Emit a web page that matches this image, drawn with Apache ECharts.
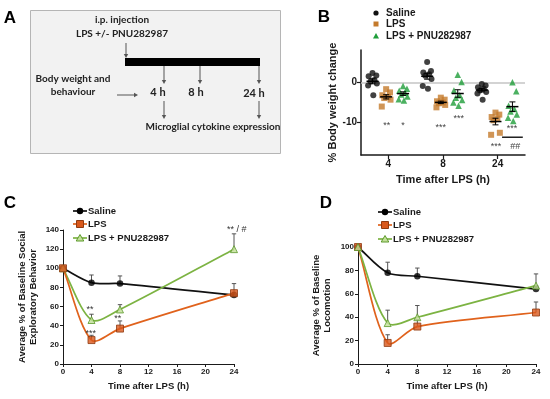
<!DOCTYPE html>
<html><head><meta charset="utf-8">
<script src="https://cdn.jsdelivr.net/npm/echarts@6/dist/echarts.min.js"></script>
<style>html,body{margin:0;padding:0;background:#fff}#c{width:550px;height:399px}</style>
</head><body><div id="c"></div><script>
// ---------- Panel B: % body weight change (individual animals) ----------
const bTimes = ['4', '8', '24'];
const bSaline = [[2.3, 1.7, 1.5, 0.6, 0.2, -0.3, -0.8, -3.2], [5.0, 2.8, 2.4, 2.0, 1.6, 0.8, -0.9, -1.6], [-0.4, -0.8, -1.2, -1.6, -2.0, -2.4, -2.8, -4.3]];
const bLPS = [[-1.7, -2.5, -3.2, -3.6, -3.9, -4.3, -6.0], [-3.8, -4.3, -4.7, -5.0, -5.2, -5.6, -6.2], [-7.5, -8.0, -8.6, -9.0, -9.4, -12.5, -13.0]];
const bPNU = [[-0.9, -1.6, -2.1, -2.6, -3.0, -3.5, -4.2, -4.5], [1.9, 0.1, -2.0, -3.2, -3.8, -4.4, -5.0, -5.8], [0, -2.2, -5.8, -6.6, -7.2, -8.0, -8.8, -9.6]];
const bYTicks = [0, -10];
const bNotes = [ // text, x (axis units), y (value)
  ['**', 0.47, -10.6], ['*', 0.77, -10.8], ['***', 1.46, -11.1], ['***', 1.79, -8.9],
  ['***', 2.76, -11.4], ['***', 2.47, -15.8], ['##', 2.82, -15.8]];

// ---------- Panel C: social exploratory behaviour ----------
const lineTimes = [0, 4, 8, 24];
const cSaline = [100, 85, 84, 72], cSalineErr = [0, 8, 8, 3];
const cLPS = [100, 25, 37, 74], cLPSErr = [0, 5, 8, 10];
const cPNU = [100, 46, 57, 120], cPNUErr = [0, 6, 5, 16];
const cNotes = [['**', 3.8, 56.5], ['***', 3.9, 31.5], ['**', 7.7, 48], ['** / #', 24.4, 141]];

// ---------- Panel D: locomotion ----------
const dSaline = [100, 78, 75, 64], dSalineErr = [0, 9, 7, 3];
const dLPS = [100, 18, 32, 44], dLPSErr = [0, 7, 6, 9];
const dPNU = [100, 35, 40, 67], dPNUErr = [0, 11, 10, 10];

const groupNames = ['Saline', 'LPS', 'LPS + PNU282987'];

const AX = 'Liberation Sans';
const BLK = '#1a1a1a';
const colB = ['#111111', '#c47a2c', '#1f9e3a'];
const colLine = ['#111111', '#e0621c', '#7cb342'];

const chart = echarts.init(document.getElementById('c'), null, {renderer: 'canvas', width: 550, height: 399});

// ---- helpers ----
const groupOffset = [-0.29, -0.04, 0.27];
const jitterPattern = [0, 0.07, -0.07, 0.035, -0.035, 0.08, -0.08, 0.015, -0.015];
function bPoints(sets, g) {
  const out = [];
  sets.forEach((vals, ci) => {
    const order = vals.map((v, i) => i).sort((a, b) => vals[b] - vals[a]);
    order.forEach((idx, rank) => {
      out.push([ci + 0.5 + groupOffset[g] + jitterPattern[rank % jitterPattern.length], vals[idx]]);
    });
  });
  return out;
}
function stats(vals) {
  const n = vals.length, m = vals.reduce((a, b) => a + b, 0) / n;
  const sd = Math.sqrt(vals.reduce((a, b) => a + (b - m) * (b - m), 0) / (n - 1));
  return [m, sd / Math.sqrt(n)];
}
function meanSeries(sets, g) {
  return {
    type: 'custom', xAxisIndex: 0, yAxisIndex: 0, z: 5, silent: true,
    encode: {x: 0, y: 1},
    data: sets.map((vals, ci) => { const s = stats(vals); return [ci + 0.5 + groupOffset[g], s[0], s[1]]; }),
    renderItem: (params, api) => {
      const x = api.value(0), m = api.value(1), se = api.value(2);
      const pm = api.coord([x, m]), pt = api.coord([x, m + se]), pb = api.coord([x, m - se]);
      const st = {stroke: '#000', lineWidth: 1.5};
      return {type: 'group', children: [
        {type: 'line', shape: {x1: pm[0] - 6, y1: pm[1], x2: pm[0] + 6, y2: pm[1]}, style: st},
        {type: 'line', shape: {x1: pt[0], y1: pt[1], x2: pb[0], y2: pb[1]}, style: {stroke: '#000', lineWidth: 1}},
        {type: 'line', shape: {x1: pt[0] - 3, y1: pt[1], x2: pt[0] + 3, y2: pt[1]}, style: {stroke: '#000', lineWidth: 1}},
        {type: 'line', shape: {x1: pb[0] - 3, y1: pb[1], x2: pb[0] + 3, y2: pb[1]}, style: {stroke: '#000', lineWidth: 1}}
      ]};
    }
  };
}
function curveSeries(ai, ys, color, z) {
  return {
    type: 'custom', xAxisIndex: ai, yAxisIndex: ai, z: z, silent: true, clip: false,
    encode: {x: 0, y: 1},
    data: lineTimes.map((t, i) => [t, ys[i]]),
    renderItem: (params, api) => {
      if (params.dataIndex !== 0) return null;
      const pts = lineTimes.map((t, i) => api.coord([t, ys[i]]));
      const n = pts.length, s = 0.3, cps = [];
      for (let i = 0; i < n; i++) {
        const p = pts[i], pr = pts[Math.max(i - 1, 0)], nx = pts[Math.min(i + 1, n - 1)];
        const vx = nx[0] - pr[0], vy = nx[1] - pr[1];
        const dp = Math.hypot(p[0] - pr[0], p[1] - pr[1]), dn = Math.hypot(nx[0] - p[0], nx[1] - p[1]);
        const tot = (dp + dn) || 1;
        cps.push({inn: [p[0] - vx * s * dp / tot, p[1] - vy * s * dp / tot], out: [p[0] + vx * s * dn / tot, p[1] + vy * s * dn / tot]});
      }
      const children = [];
      for (let i = 0; i < n - 1; i++) {
        children.push({type: 'bezierCurve', shape: {
          x1: pts[i][0], y1: pts[i][1], x2: pts[i + 1][0], y2: pts[i + 1][1],
          cpx1: cps[i].out[0], cpy1: cps[i].out[1], cpx2: cps[i + 1].inn[0], cpy2: cps[i + 1].inn[1]},
          style: {stroke: color, lineWidth: 1.7, fill: null}});
      }
      return {type: 'group', children};
    }
  };
}
function errSeries(ai, ys, errs) {
  return {
    type: 'custom', xAxisIndex: ai, yAxisIndex: ai, z: 3, silent: true,
    encode: {x: 0, y: 1},
    data: lineTimes.map((t, i) => [t, ys[i], errs[i]]),
    renderItem: (params, api) => {
      const x = api.value(0), y = api.value(1), e = api.value(2);
      if (!e) return null;
      const p0 = api.coord([x, y]), p1 = api.coord([x, y + e]);
      const st = {stroke: '#555', lineWidth: 1};
      return {type: 'group', children: [
        {type: 'line', shape: {x1: p0[0], y1: p0[1], x2: p1[0], y2: p1[1]}, style: st},
        {type: 'line', shape: {x1: p1[0] - 2.2, y1: p1[1], x2: p1[0] + 2.2, y2: p1[1]}, style: st}
      ]};
    }
  };
}
const lineSym = [
  {symbol: 'circle', symbolSize: 6.5, itemStyle: {color: '#000'}},
  {symbol: 'rect', symbolSize: 7, itemStyle: {color: '#d9581b', borderColor: '#8f3a10', borderWidth: 1}},
  {symbol: 'triangle', symbolSize: 7, itemStyle: {color: '#c3e09a', borderColor: '#5d9a2c', borderWidth: 1}}
];
function markerSeries(ai, ys, g, z) {
  return Object.assign({type: 'scatter', name: groupNames[g], xAxisIndex: ai, yAxisIndex: ai, z: z, silent: true,
    data: lineTimes.map((t, i) => [t, ys[i]])}, lineSym[g]);
}
function valAxis(gi, extra) {
  return Object.assign({
    type: 'value', gridIndex: gi, splitLine: {show: false},
    axisLine: {show: true, onZero: false, lineStyle: {color: BLK, width: 1}},
    axisTick: {show: true, length: 3, lineStyle: {color: BLK}},
    axisLabel: {fontFamily: AX, fontWeight: 'bold', fontSize: 8, color: BLK, margin: 4},
    nameLocation: 'middle',
    nameTextStyle: {fontFamily: AX, fontWeight: 'bold', fontSize: 9.5, color: BLK, lineHeight: 11}
  }, extra);
}

const series = [
  {type: 'scatter', name: 'Saline', xAxisIndex: 0, yAxisIndex: 0, symbol: 'circle', symbolSize: 6, z: 3, silent: true,
    itemStyle: {color: colB[0]}, data: bPoints(bSaline, 0),
    markLine: {silent: true, symbol: ['none', 'none'], label: {show: false}, lineStyle: {color: '#c4c4c4', type: 'solid', width: 1.5}, data: [{yAxis: 0}], z: 1}},
  {type: 'scatter', name: 'LPS', xAxisIndex: 0, yAxisIndex: 0, symbol: 'rect', symbolSize: 6, z: 3, silent: true,
    itemStyle: {color: colB[1]}, data: bPoints(bLPS, 1)},
  {type: 'scatter', name: 'LPS + PNU282987', xAxisIndex: 0, yAxisIndex: 0, symbol: 'triangle', symbolSize: 6.5, z: 3, silent: true,
    itemStyle: {color: colB[2]}, data: bPoints(bPNU, 2)},
  meanSeries(bSaline, 0), meanSeries(bLPS, 1), meanSeries(bPNU, 2),
  // C
  errSeries(1, cSaline, cSalineErr), errSeries(1, cLPS, cLPSErr), errSeries(1, cPNU, cPNUErr),
  curveSeries(1, cSaline, colLine[0], 4), curveSeries(1, cPNU, colLine[2], 4), curveSeries(1, cLPS, colLine[1], 4),
  markerSeries(1, cSaline, 0, 6), markerSeries(1, cPNU, 2, 7), markerSeries(1, cLPS, 1, 8),
  // D
  errSeries(2, dSaline, dSalineErr), errSeries(2, dLPS, dLPSErr), errSeries(2, dPNU, dPNUErr),
  curveSeries(2, dSaline, colLine[0], 4), curveSeries(2, dLPS, colLine[1], 4), curveSeries(2, dPNU, colLine[2], 4),
  markerSeries(2, dSaline, 0, 6), markerSeries(2, dLPS, 1, 7), markerSeries(2, dPNU, 2, 8)
];

const bTickVals = bTimes.map((t, i) => i + 0.5);
const option = {
  animation: false,
  grid: [
    {left: 361, top: 50, width: 164, height: 105},
    {left: 63, top: 230, width: 171, height: 134},
    {left: 358, top: 247, width: 178, height: 117}
  ],
  xAxis: [
    valAxis(0, {min: 0, max: 3,
      axisLine: {show: true, onZero: false, lineStyle: {color: BLK, width: 1.5}},
      axisTick: {show: true, length: 4, customValues: bTickVals, lineStyle: {color: BLK, width: 1.2}},
      axisLabel: {customValues: bTickVals, formatter: v => bTimes[Math.round(v - 0.5)], fontFamily: AX, fontWeight: 'bold', fontSize: 10, color: BLK, margin: 4},
      name: 'Time after LPS (h)', nameGap: 19, nameTextStyle: {fontFamily: AX, fontWeight: 'bold', fontSize: 11, color: BLK}}),
    valAxis(1, {min: 0, max: 24, interval: 4, name: 'Time after LPS (h)', nameGap: 17}),
    valAxis(2, {min: 0, max: 24, interval: 4, name: 'Time after LPS (h)', nameGap: 17})
  ],
  yAxis: [
    valAxis(0, {min: -18, max: 8,
      axisLine: {show: true, onZero: false, lineStyle: {color: BLK, width: 1.5}},
      axisTick: {show: true, length: 4, customValues: bYTicks, lineStyle: {color: BLK, width: 1.2}},
      axisLabel: {customValues: bYTicks, fontFamily: AX, fontWeight: 'bold', fontSize: 10, color: BLK, margin: 4},
      name: '% Body weight change', nameRotate: 90, nameGap: 23,
      nameTextStyle: {fontFamily: AX, fontWeight: 'bold', fontSize: 11, color: BLK}}),
    valAxis(1, {min: 0, max: 140, interval: 20, name: 'Average % of Baseline Social\nExploratory Behavior', nameRotate: 90, nameGap: 24}),
    valAxis(2, {min: 0, max: 100, interval: 20, name: 'Average % of Baseline\nLocomotion', nameRotate: 90, nameGap: 25})
  ],
  series: series
};
chart.setOption(option);

// ---------- graphics: panel A, panel letters, legends, annotations ----------
const g = [];
function txt(x, y, text, font, align, fill) {
  g.push({type: 'text', x: x, y: y, z: 20, silent: true, style: {text: text, font: font, fill: fill || '#222',
    align: align || 'center', verticalAlign: 'middle', textAlign: align || 'center', textVerticalAlign: 'middle'}});
}
function arrow(x1, y1, x2, y2) {
  const a = Math.atan2(y2 - y1, x2 - x1), L = 4, W = 2.2;
  const hx = x2 - L * Math.cos(a), hy = y2 - L * Math.sin(a);
  g.push({type: 'line', z: 20, silent: true, shape: {x1: x1, y1: y1, x2: hx, y2: hy}, style: {stroke: '#555', lineWidth: 1}});
  g.push({type: 'polygon', z: 20, silent: true, shape: {points: [[x2, y2], [hx - W * Math.sin(a), hy + W * Math.cos(a)], [hx + W * Math.sin(a), hy - W * Math.cos(a)]]}, style: {fill: '#555'}});
}
const AF = 'bold 10px Lato';
g.push({type: 'rect', z: 10, silent: true, shape: {x: 30.5, y: 10.5, width: 250, height: 143}, style: {fill: '#f2f2f2', stroke: '#b5b5b5', lineWidth: 1}});
txt(122, 20, 'i.p. injection', AF);
txt(122, 34, 'LPS +/- PNU282987', AF);
arrow(126, 43, 126, 58);
g.push({type: 'rect', z: 20, silent: true, shape: {x: 125, y: 58, width: 135, height: 8}, style: {fill: '#000'}});
arrow(164, 66, 164, 84); arrow(200, 66, 200, 84); arrow(259, 66, 259, 84);
txt(73, 79, 'Body weight and', AF);
txt(73, 92, 'behaviour', AF);
arrow(117, 95, 138, 95);
txt(158, 92, '4 h', 'bold 11px Lato');
txt(196, 92, '8 h', 'bold 11px Lato');
txt(254, 93, '24 h', 'bold 11px Lato');
arrow(164, 101, 164, 119); arrow(259, 101, 259, 119);
txt(213, 127, 'Microglial cytokine expression', AF);

// panel letters
txt(10, 18, 'A', 'bold 17px ' + AX, 'center', '#000');
txt(324, 17, 'B', 'bold 17px ' + AX, 'center', '#000');
txt(10, 203, 'C', 'bold 17px ' + AX, 'center', '#000');
txt(326, 203, 'D', 'bold 17px ' + AX, 'center', '#000');

// legend B
const LB = 'bold 10px ' + AX;
[13, 24, 36].forEach((y, i) => {
  if (i === 0) g.push({type: 'circle', z: 20, silent: true, shape: {cx: 376, cy: y, r: 2.6}, style: {fill: colB[0]}});
  if (i === 1) g.push({type: 'rect', z: 20, silent: true, shape: {x: 373.5, y: y - 2.5, width: 5, height: 5}, style: {fill: colB[1]}});
  if (i === 2) g.push({type: 'polygon', z: 20, silent: true, shape: {points: [[376, y - 3], [379, y + 2.5], [373, y + 2.5]]}, style: {fill: colB[2]}});
  txt(386, y, groupNames[i], LB, 'left', BLK);
});
// legends C and D
function lineLegend(x0, ys) {
  ys.forEach((y, i) => {
    g.push({type: 'line', z: 20, silent: true, shape: {x1: x0, y1: y, x2: x0 + 14, y2: y}, style: {stroke: colLine[i], lineWidth: 1.7}});
    const s = lineSym[i], c = x0 + 7;
    if (i === 0) g.push({type: 'circle', z: 21, silent: true, shape: {cx: c, cy: y, r: 3.2}, style: {fill: '#000'}});
    if (i === 1) g.push({type: 'rect', z: 21, silent: true, shape: {x: c - 3.5, y: y - 3.5, width: 7, height: 7}, style: {fill: s.itemStyle.color, stroke: s.itemStyle.borderColor, lineWidth: 1}});
    if (i === 2) g.push({type: 'polygon', z: 21, silent: true, shape: {points: [[c, y - 3.5], [c + 3.8, y + 3], [c - 3.8, y + 3]]}, style: {fill: s.itemStyle.color, stroke: s.itemStyle.borderColor, lineWidth: 1}});
    txt(x0 + 15, y, groupNames[i], 'bold 9.5px ' + AX, 'left', BLK);
  });
}
lineLegend(73, [211, 224, 238]);
lineLegend(378, [212, 225, 239]);

// annotations
bNotes.forEach(n => {
  const p = chart.convertToPixel({xAxisIndex: 0, yAxisIndex: 0}, [n[1], n[2]]);
  txt(p[0], p[1], n[0], '9px ' + AX, 'center', '#444');
});
const l1 = chart.convertToPixel({xAxisIndex: 0, yAxisIndex: 0}, [2.58, -13.6]);
const l2 = chart.convertToPixel({xAxisIndex: 0, yAxisIndex: 0}, [2.96, -13.6]);
g.push({type: 'line', z: 20, silent: true, shape: {x1: l1[0], y1: l1[1], x2: l2[0], y2: l2[1]}, style: {stroke: '#222', lineWidth: 1.5}});
cNotes.forEach(n => {
  const p = chart.convertToPixel({xAxisIndex: 1, yAxisIndex: 1}, [n[1], n[2]]);
  txt(p[0], p[1], n[0], '9px ' + AX, 'center', '#333');
});

chart.setOption({graphic: {elements: g}});
</script></body></html>
